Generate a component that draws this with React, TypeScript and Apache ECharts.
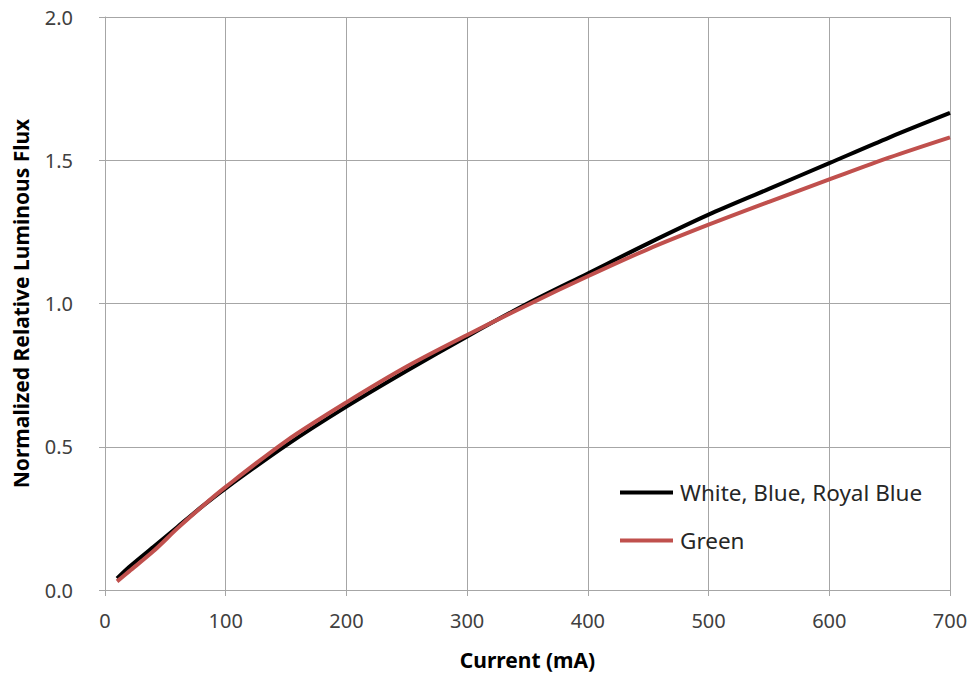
import React, { useEffect, useRef } from "react";
import * as echarts from "echarts";

const currents = [10, 20, 40, 60, 80, 100, 150, 200, 250, 300, 350, 400, 450, 500, 550, 600, 650, 700];
const whiteBlue = [0.04, 0.08, 0.15, 0.22, 0.29, 0.355, 0.505, 0.64, 0.765, 0.885, 1.0, 1.105, 1.21, 1.31, 1.4, 1.49, 1.58, 1.665];
const green = [0.03, 0.065, 0.135, 0.215, 0.29, 0.36, 0.52, 0.655, 0.78, 0.89, 0.995, 1.095, 1.19, 1.275, 1.355, 1.433, 1.51, 1.58];
const seriesNames = ["White, Blue, Royal Blue", "Green"];

const FONT = "'Noto Sans', 'Open Sans', sans-serif";

export default function App() {
  const ref = useRef<HTMLDivElement>(null);
  useEffect(() => {
    if (!ref.current) return;
    const chart = echarts.init(ref.current, undefined, { renderer: "svg" });
    const axisLine = { show: true, lineStyle: { color: "#a6a6a6", width: 1 } };
    chart.setOption({
      animation: false,
      backgroundColor: "#ffffff",
      grid: { left: 105, right: 26, top: 17, bottom: 89, containLabel: false },
      legend: {
        orient: "vertical",
        left: 620,
        top: 481,
        padding: 0,
        itemGap: 25,
        itemWidth: 53,
        itemHeight: 4,
        icon: "rect",
        textStyle: { fontFamily: FONT, fontSize: 22.5, color: "#262626", padding: [0, 0, 0, 2] },
        data: seriesNames,
      },
      xAxis: {
        type: "value",
        min: 0,
        max: 700,
        interval: 100,
        name: "Current (mA)",
        nameLocation: "middle",
        nameGap: 59,
        nameTextStyle: { fontFamily: FONT, fontSize: 21, fontWeight: "bold", color: "#000" },
        axisLine,
        axisTick: { show: true, length: 6, inside: false, lineStyle: { color: "#a6a6a6" } },
        axisLabel: { fontFamily: FONT, fontSize: 20, color: "#404040", margin: 20 },
        splitLine: { show: true, lineStyle: { color: "#a6a6a6", width: 1 } },
      },
      yAxis: {
        type: "value",
        min: 0,
        max: 2,
        interval: 0.5,
        name: "Normalized Relative Luminous Flux",
        nameLocation: "middle",
        nameGap: 74,
        nameTextStyle: { fontFamily: FONT, fontSize: 21, fontWeight: "bold", color: "#000" },
        axisLine,
        axisTick: { show: true, length: 6, inside: false, lineStyle: { color: "#a6a6a6" } },
        axisLabel: {
          fontFamily: FONT,
          fontSize: 20,
          color: "#404040",
          margin: 32,
          formatter: (v: number) => v.toFixed(1),
        },
        splitLine: { show: true, lineStyle: { color: "#a6a6a6", width: 1 } },
      },
      series: [
        {
          name: seriesNames[0],
          type: "line",
          data: currents.map((c, i) => [c, whiteBlue[i]]),
          showSymbol: false,
          smooth: 0.3,
          lineStyle: { color: "#000000", width: 4 },
          itemStyle: { color: "#000000" },
          z: 2,
        },
        {
          name: seriesNames[1],
          type: "line",
          data: currents.map((c, i) => [c, green[i]]),
          showSymbol: false,
          smooth: 0.3,
          lineStyle: { color: "#c0504d", width: 4 },
          itemStyle: { color: "#c0504d" },
          z: 3,
        },
      ],
    });
    return () => chart.dispose();
  }, []);
  return (
    <div
      ref={ref}
      style={{ position: "fixed", left: 0, top: 0, width: 976, height: 679 }}
    />
  );
}
